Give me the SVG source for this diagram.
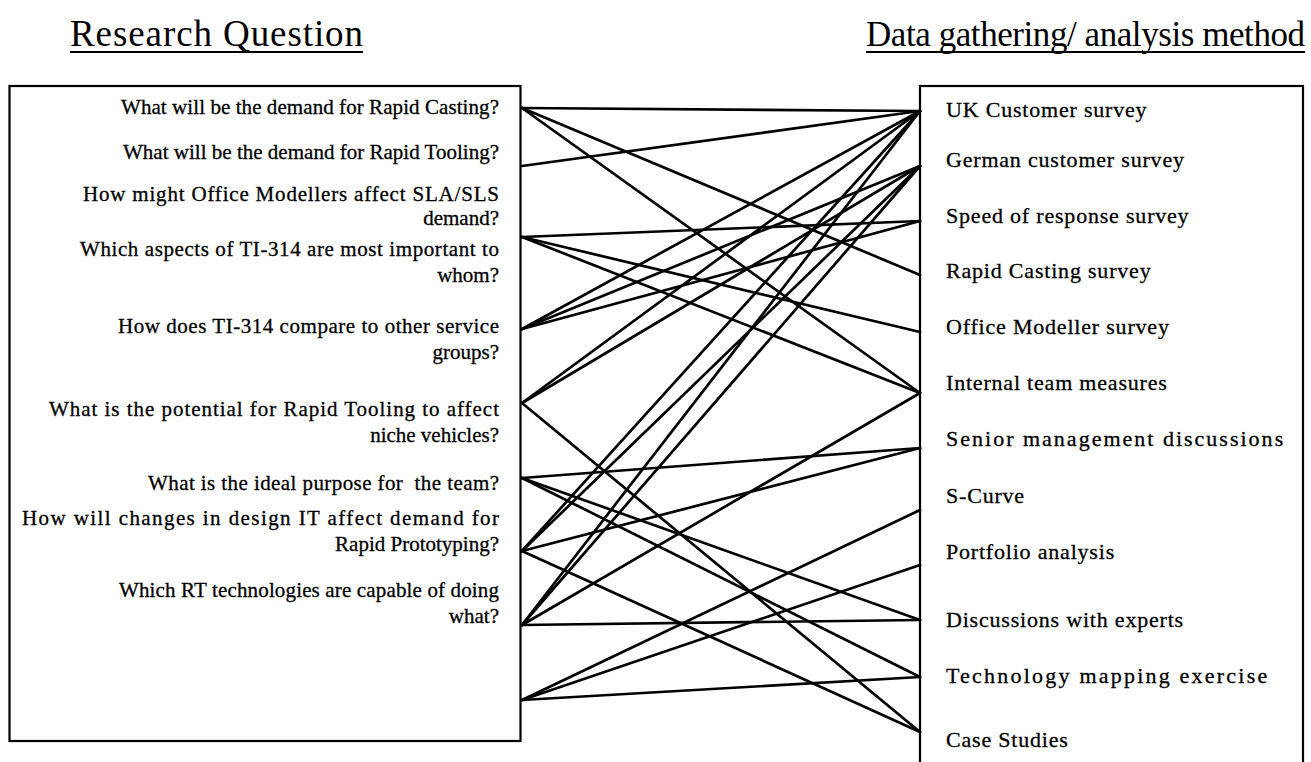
<svg xmlns="http://www.w3.org/2000/svg" width="1311" height="762" viewBox="0 0 1311 762">
  <style>
    .bg { fill: #ffffff; }
    .box { fill: none; stroke: #000; stroke-width: 2.2; }
    .title { font-family: "Liberation Serif", "Times New Roman", serif; font-size: 37px; fill: #000; }
    .title-r { font-size: 35px; }
    .rule { stroke: #000; stroke-width: 2; }
    .q { font-family: "Liberation Serif", "Times New Roman", serif; font-size: 21px; fill: #000; stroke: #000; stroke-width: 0.3; text-anchor: end; }
    .m { font-family: "Liberation Serif", "Times New Roman", serif; font-size: 22px; letter-spacing: 0.8px; fill: #000; stroke: #000; stroke-width: 0.3; }
    .pre { white-space: pre; }
    .link { stroke: #000; stroke-width: 2.7; stroke-linecap: round; fill: none; }
  </style>
  <rect class="bg" x="0" y="0" width="1311" height="762"/>

  <!-- column headings -->
  <g id="heading-questions">
    <text class="title" x="70" y="46" textLength="293">Research Question</text>
    <line class="rule" x1="70" y1="52" x2="363" y2="52"/>
  </g>
  <g id="heading-methods">
    <text class="title title-r" x="866" y="46" textLength="439">Data gathering/ analysis method</text>
    <line class="rule" x1="866" y1="52" x2="1305" y2="52"/>
  </g>

  <!-- research questions (right-aligned against the box edge) -->
  <g id="questions">
    <rect class="box" x="9.5" y="86" width="511" height="655"/>
    <g id="q1"><text class="q" x="499" y="114" textLength="378">What will be the demand for Rapid Casting?</text></g>
    <g id="q2"><text class="q" x="499" y="159" textLength="376">What will be the demand for Rapid Tooling?</text></g>
    <g id="q3"><text class="q" x="499" y="201" textLength="416">How might Office Modellers affect SLA/SLS</text><text class="q" x="499" y="225">demand?</text></g>
    <g id="q4"><text class="q" x="499" y="256" textLength="419">Which aspects of TI-314 are most important to</text><text class="q" x="499" y="282">whom?</text></g>
    <g id="q5"><text class="q" x="499" y="333" textLength="381">How does TI-314 compare to other service</text><text class="q" x="499" y="359">groups?</text></g>
    <g id="q6"><text class="q" x="499" y="416" textLength="450">What is the potential for Rapid Tooling to affect</text><text class="q" x="499" y="442">niche vehicles?</text></g>
    <g id="q7"><text class="q pre" x="499" y="490" textLength="351">What is the ideal purpose for  the team?</text></g>
    <g id="q8"><text class="q" x="499" y="525" textLength="477">How will changes in design IT affect demand for</text><text class="q" x="499" y="551">Rapid Prototyping?</text></g>
    <g id="q9"><text class="q" x="499" y="597" textLength="380">Which RT technologies are capable of doing</text><text class="q" x="499" y="623">what?</text></g>
  </g>

  <!-- data gathering / analysis methods -->
  <g id="methods">
    <rect class="box" x="920" y="86" width="383" height="700"/>
    <g id="m1"><text class="m" x="946" y="117">UK Customer survey</text></g>
    <g id="m2"><text class="m" x="946" y="167">German customer survey</text></g>
    <g id="m3"><text class="m" x="946" y="223">Speed of response survey</text></g>
    <g id="m4"><text class="m" x="946" y="278">Rapid Casting survey</text></g>
    <g id="m5"><text class="m" x="946" y="334">Office Modeller survey</text></g>
    <g id="m6"><text class="m" x="946" y="390">Internal team measures</text></g>
    <g id="m7"><text class="m" x="946" y="446" textLength="338">Senior management discussions</text></g>
    <g id="m8"><text class="m" x="946" y="503">S-Curve</text></g>
    <g id="m9"><text class="m" x="946" y="559">Portfolio analysis</text></g>
    <g id="m10"><text class="m" x="946" y="627">Discussions with experts</text></g>
    <g id="m11"><text class="m" x="946" y="683" textLength="322">Technology mapping exercise</text></g>
    <g id="m12"><text class="m" x="946" y="747">Case Studies</text></g>
  </g>

  <!-- links: question anchor (x=522) to method anchor (x=920) -->
  <g id="links">
    <!-- q1 -->
    <line class="link" x1="522" y1="108" x2="920" y2="111"/>
    <line class="link" x1="522" y1="108" x2="920" y2="275"/>
    <line class="link" x1="522" y1="108" x2="920" y2="393"/>
    <!-- q2 -->
    <line class="link" x1="522" y1="166" x2="920" y2="111"/>
    <!-- q3 -->
    <line class="link" x1="522" y1="237" x2="920" y2="221"/>
    <line class="link" x1="522" y1="237" x2="920" y2="332"/>
    <line class="link" x1="522" y1="237" x2="920" y2="393"/>
    <!-- q4 -->
    <line class="link" x1="522" y1="329" x2="920" y2="111"/>
    <line class="link" x1="522" y1="329" x2="920" y2="166"/>
    <line class="link" x1="522" y1="329" x2="920" y2="221"/>
    <!-- q5 -->
    <line class="link" x1="522" y1="403" x2="920" y2="111"/>
    <line class="link" x1="522" y1="403" x2="920" y2="166"/>
    <line class="link" x1="522" y1="403" x2="920" y2="732"/>
    <!-- q6 -->
    <line class="link" x1="522" y1="478" x2="920" y2="448"/>
    <line class="link" x1="522" y1="478" x2="920" y2="620"/>
    <line class="link" x1="522" y1="478" x2="920" y2="677"/>
    <!-- q7 -->
    <line class="link" x1="522" y1="551" x2="920" y2="111"/>
    <line class="link" x1="522" y1="551" x2="920" y2="166"/>
    <line class="link" x1="522" y1="551" x2="920" y2="448"/>
    <line class="link" x1="522" y1="551" x2="920" y2="732"/>
    <!-- q8 -->
    <line class="link" x1="522" y1="625" x2="920" y2="111"/>
    <line class="link" x1="522" y1="625" x2="920" y2="166"/>
    <line class="link" x1="522" y1="625" x2="920" y2="393"/>
    <line class="link" x1="522" y1="625" x2="920" y2="620"/>
    <!-- q9 -->
    <line class="link" x1="522" y1="700" x2="920" y2="510"/>
    <line class="link" x1="522" y1="700" x2="920" y2="565"/>
    <line class="link" x1="522" y1="700" x2="920" y2="677"/>
  </g>
</svg>
